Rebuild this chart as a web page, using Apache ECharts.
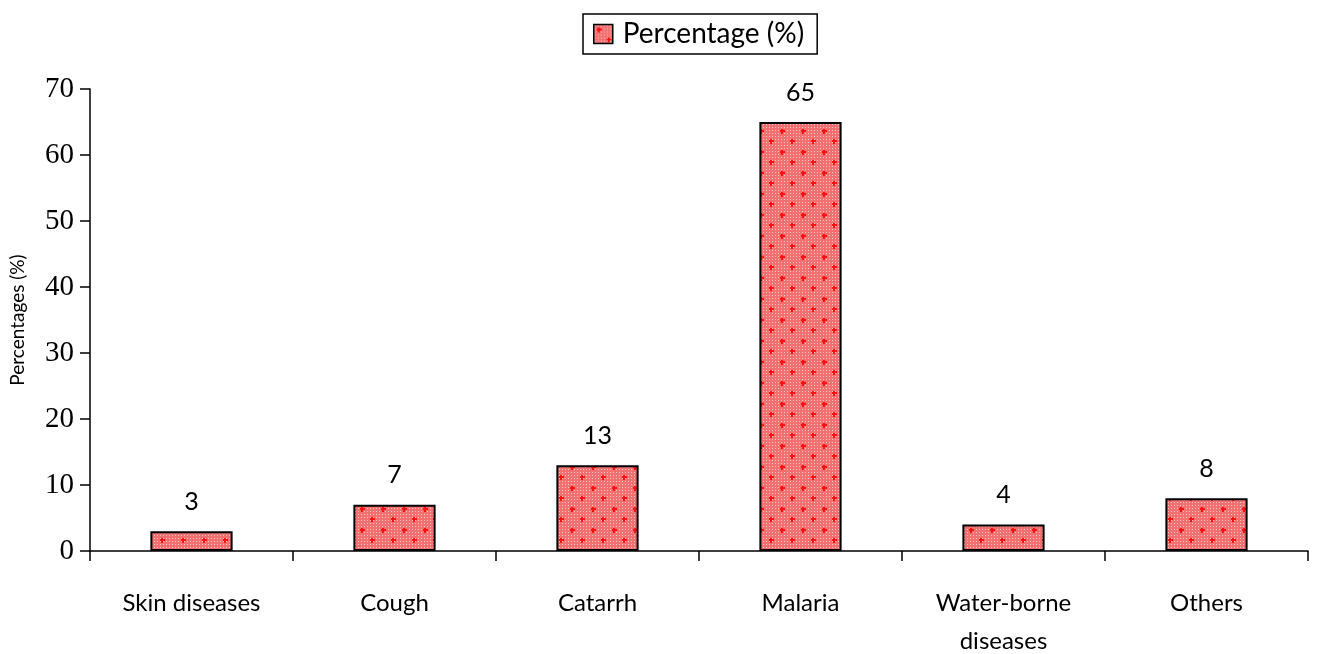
<!DOCTYPE html>
<html><head><meta charset="utf-8">
<script src="https://cdn.jsdelivr.net/npm/echarts@6/dist/echarts.min.js"></script>
<style>html,body{margin:0;padding:0;background:#fff}#c{width:1319px;height:654px}</style>
</head><body><div id="c"></div>
<script>
const categories = ['Skin diseases', 'Cough', 'Catarrh', 'Malaria', 'Water-borne\ndiseases', 'Others'];
const values = [3, 7, 13, 65, 4, 8];
const yTicks = { min: 0, max: 70, interval: 10 };
const seriesName = 'Percentage (%)';
const yAxisName = 'Percentages (%)';

function makePattern() {
  const n = 21;
  const c = document.createElement('canvas');
  c.width = n; c.height = n;
  const g = c.getContext('2d');
  g.fillStyle = '#f27070';
  g.fillRect(0, 0, n, n);
  g.fillStyle = '#fcc6c6';
  for (let y = 1; y < n; y += 3) for (let x = 1; x < n; x += 3) {
    g.fillRect(x, y, 1, 1);
  }
  g.fillStyle = '#ff1010';
  const plus = (cx, cy) => { g.fillRect(cx - 2, cy - 1, 5, 2); g.fillRect(cx - 1, cy - 2, 2, 5); };
  plus(5, 5); plus(15, 15);
  return c;
}
const pattern = makePattern();

const chart = echarts.init(document.getElementById('c'), null, { renderer: 'canvas' });
chart.setOption({
  animation: false,
  backgroundColor: '#fff',
  legend: {
    data: [{ name: seriesName, icon: 'rect', itemStyle: { color: { image: pattern, repeat: 'repeat' }, borderColor: '#000', borderWidth: 1.5 } }],
    left: 583, top: 14,
    itemWidth: 19, itemHeight: 19, itemGap: 10,
    padding: [6, 13, 6, 10],
    borderColor: '#000', borderWidth: 1.5,
    textStyle: { fontFamily: 'Lato', fontSize: 28, color: '#000', padding: [0, 0, 0, 5] }
  },
  grid: { left: 90, right: 11, top: 89, bottom: 103, containLabel: false, outerBoundsMode: 'none' },
  xAxis: {
    type: 'category', data: categories,
    axisLine: { lineStyle: { color: '#000', width: 1.5 } },
    axisTick: { show: true, length: 10, inside: false, alignWithLabel: false, lineStyle: { color: '#000', width: 1.5 } },
    axisLabel: { color: '#000', fontFamily: 'Lato', fontSize: 24, margin: 33, lineHeight: 38, interval: 0 },
    splitLine: { show: false }
  },
  yAxis: {
    type: 'value', min: yTicks.min, max: yTicks.max, interval: yTicks.interval,
    name: yAxisName, nameLocation: 'middle', nameGap: 63, nameRotate: 90,
    nameTextStyle: { fontFamily: 'Lato', fontSize: 19, color: '#000' },
    axisLine: { show: true, lineStyle: { color: '#000', width: 1.5 } },
    axisTick: { show: true, length: 10, inside: false, lineStyle: { color: '#000', width: 1.5 } },
    axisLabel: { color: '#000', fontFamily: 'Liberation Serif', fontSize: 29, margin: 16 },
    splitLine: { show: false }
  },
  series: [{
    name: seriesName, type: 'bar', data: values,
    barWidth: '40.5%',
    itemStyle: { color: { image: pattern, repeat: 'repeat' }, borderColor: '#000', borderWidth: 2 },
    label: { show: true, position: 'top', distance: 17, color: '#000', fontFamily: 'Lato', fontSize: 25 }
  }]
});
</script></body></html>
